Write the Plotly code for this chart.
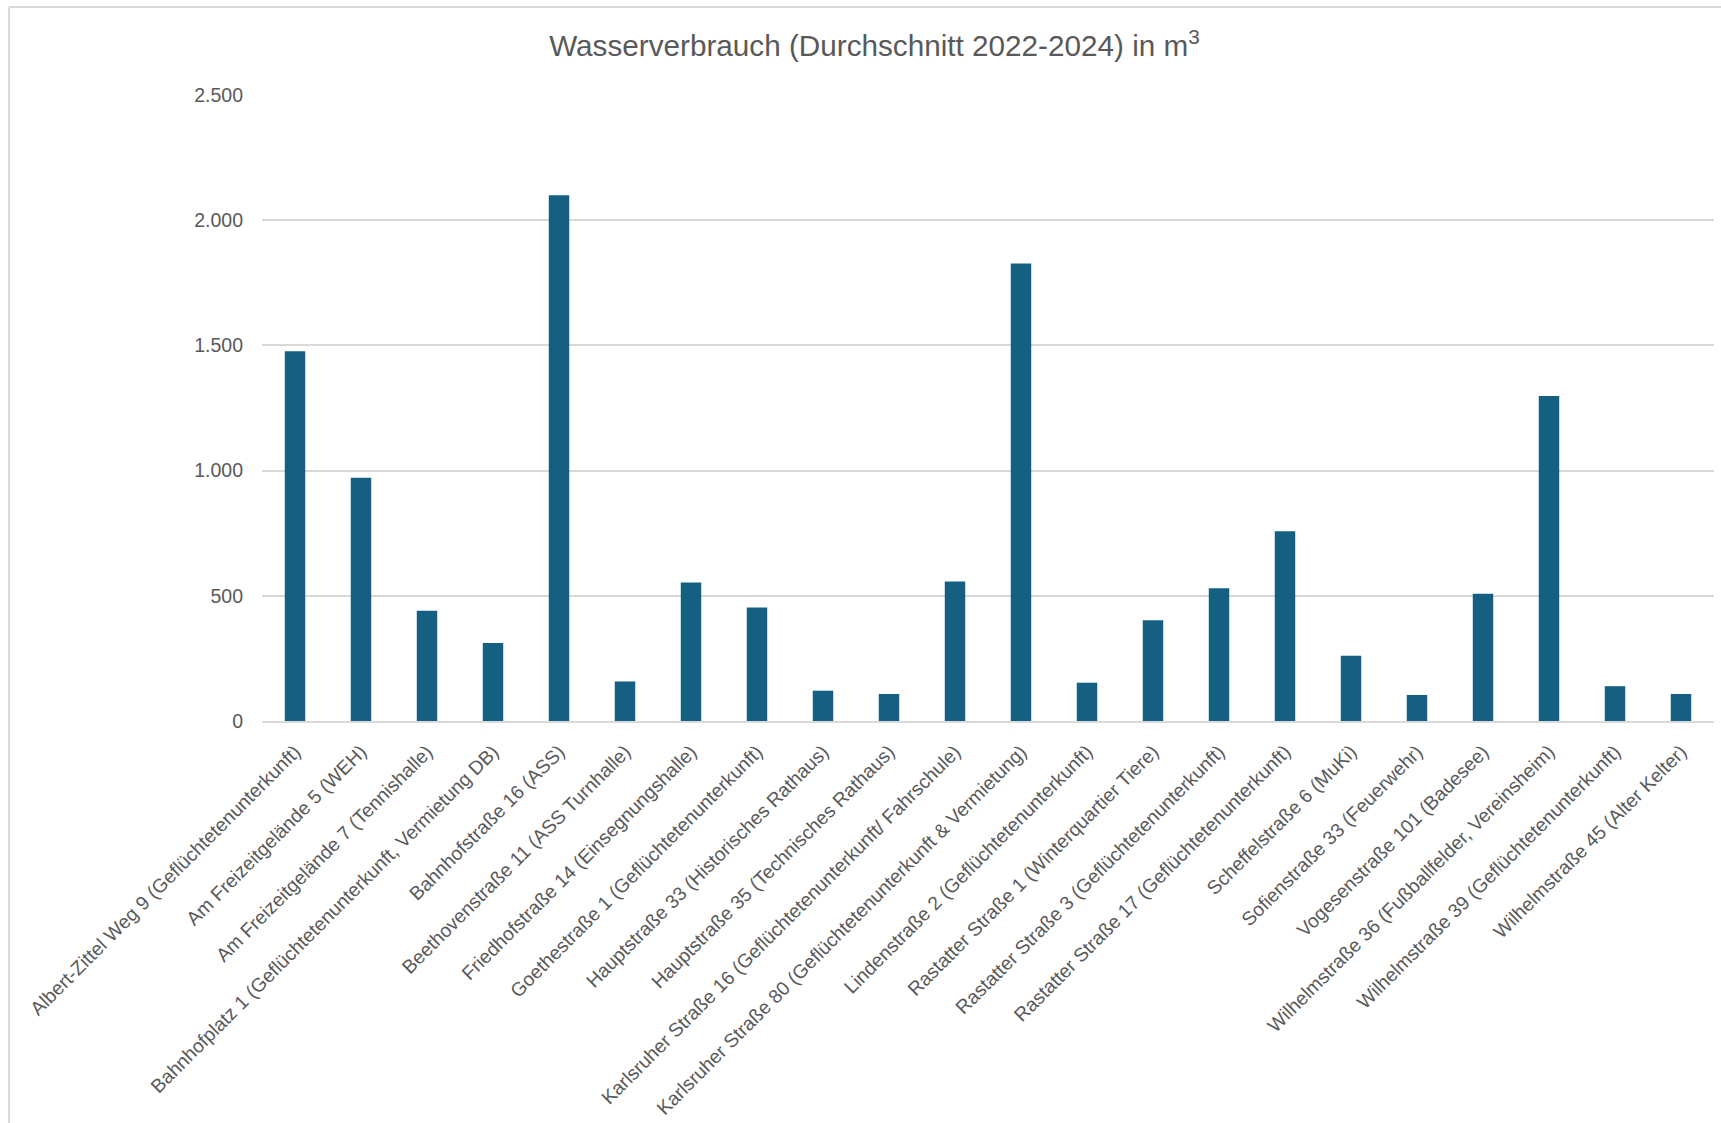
import plotly.graph_objects as go

# Gebäude / Liegenschaften
standorte = [
    "Albert-Zittel Weg 9 (Geflüchtetenunterkunft)",
    "Am Freizeitgelände 5 (WEH)",
    "Am Freizeitgelände 7 (Tennishalle)",
    "Bahnhofplatz 1 (Geflüchtetenunterkunft, Vermietung DB)",
    "Bahnhofstraße 16 (ASS)",
    "Beethovenstraße 11 (ASS Turnhalle)",
    "Friedhofstraße 14 (Einsegnungshalle)",
    "Goethestraße 1 (Geflüchtetenunterkunft)",
    "Hauptstraße 33 (Historisches Rathaus)",
    "Hauptstraße 35 (Technisches Rathaus)",
    "Karlsruher Straße 16 (Geflüchtetenunterkunft/ Fahrschule)",
    "Karlsruher Straße 80 (Geflüchtetenunterkunft & Vermietung)",
    "Lindenstraße 2 (Geflüchtetenunterkunft)",
    "Rastatter Straße 1 (Winterquartier Tiere)",
    "Rastatter Straße 3 (Geflüchtetenunterkunft)",
    "Rastatter Straße 17 (Geflüchtetenunterkunft)",
    "Scheffelstraße 6 (MuKi)",
    "Sofienstraße 33 (Feuerwehr)",
    "Vogesenstraße 101 (Badesee)",
    "Wilhelmstraße 36 (Fußballfelder, Vereinsheim)",
    "Wilhelmstraße 39 (Geflüchtetenunterkunft)",
    "Wilhelmstraße 45 (Alter Kelter)",
]

# Durchschnittlicher Wasserverbrauch 2022-2024 in m³
verbrauch = [
    1477, 971, 440, 312, 2100, 158, 553, 453, 121, 108, 557,
    1827, 153, 402, 530, 758, 261, 104, 508, 1298, 139, 108,
]

y_ticks = [0, 500, 1000, 1500, 2000, 2500]

TEXT_GREY = "#595959"
GRID_GREY = "#d9d9d9"
BAR_BLUE = "#156082"
FONT = "Liberation Sans, Arial, sans-serif"

W, H = 1721, 1123
M_L, M_R, M_T, M_B = 262, 6.5, 94.5, 402
plot_w = W - M_L - M_R
plot_h = H - M_T - M_B


def px_to_paper_x(px):
    return (px - M_L) / plot_w


def px_to_paper_y(py):
    return (H - M_B - py) / plot_h


fig = go.Figure(
    go.Bar(
        x=standorte,
        y=verbrauch,
        marker=dict(color=BAR_BLUE, line=dict(width=0)),
        hovertemplate="%{x}<br>%{y:,} m³<extra></extra>",
    )
)

fig.update_layout(
    width=W,
    height=H,
    margin=dict(l=M_L, r=M_R, t=M_T, b=M_B, autoexpand=False),
    paper_bgcolor="white",
    plot_bgcolor="white",
    separators=",.",
    bargap=0.69,
    showlegend=False,
    font=dict(family=FONT, color=TEXT_GREY),
    title=dict(
        text="Wasserverbrauch (Durchschnitt 2022-2024) in m<sup>3</sup>",
        x=874.5 / W,
        xref="container",
        xanchor="center",
        y=1 - 46 / H,
        yref="container",
        yanchor="middle",
        font=dict(family=FONT, size=29.7, color=TEXT_GREY),
    ),
    xaxis=dict(
        tickangle=-45,
        tickfont=dict(family=FONT, size=19.3, color=TEXT_GREY),
        showgrid=False,
        showline=True,
        linecolor=GRID_GREY,
        linewidth=1.5,
        ticks="",
        ticklabelstandoff=10,
        automargin=False,
        fixedrange=True,
    ),
    yaxis=dict(
        range=[0, 2500],
        tickvals=y_ticks,
        tickformat=",d",
        tickfont=dict(family=FONT, size=19.5, color=TEXT_GREY),
        showgrid=True,
        gridcolor=GRID_GREY,
        gridwidth=1.5,
        zeroline=False,
        showline=False,
        ticks="",
        ticklabelstandoff=18,
        automargin=False,
        fixedrange=True,
    ),
    shapes=[
        # Rahmen des Diagrammbereichs (oben und links)
        dict(
            type="line", xref="paper", yref="paper",
            x0=px_to_paper_x(9), x1=px_to_paper_x(W + 5),
            y0=px_to_paper_y(6.5), y1=px_to_paper_y(6.5),
            line=dict(color=GRID_GREY, width=2),
        ),
        dict(
            type="line", xref="paper", yref="paper",
            x0=px_to_paper_x(9), x1=px_to_paper_x(9),
            y0=px_to_paper_y(6.5), y1=px_to_paper_y(H + 5),
            line=dict(color=GRID_GREY, width=2),
        ),
    ],
)

fig.write_html("out.html")
